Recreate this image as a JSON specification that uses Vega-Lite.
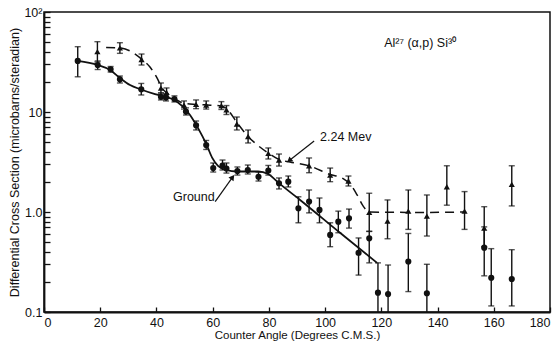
{
  "$schema": "https://vega.github.io/schema/vega-lite/v6.json",
  "width": 506,
  "height": 300,
  "autosize": "none",
  "padding": {"left": 44, "top": 12, "right": 10, "bottom": 37},
  "background": "white",
  "config": {
    "view": {"stroke": "#111", "strokeWidth": 1.5},
    "font": "Liberation Sans",
    "axis": {"domainColor": "#111", "domainWidth": 1.8, "tickColor": "#111", "tickWidth": 1.3, "labelColor": "#111", "titleColor": "#111", "grid": false, "labelFont": "Liberation Sans", "titleFont": "Liberation Sans", "titleFontWeight": "normal"}
  },
  "datasets": {
    "pts": [
      {"s": "Ground", "x": 12.0, "y": 32.4, "lo": 22.5, "hi": 45.0},
      {"s": "Ground", "x": 19.1, "y": 29.5, "lo": 26.6, "hi": 32.4},
      {"s": "Ground", "x": 23.7, "y": 26.7, "lo": 25.1, "hi": 28.5},
      {"s": "Ground", "x": 27.0, "y": 21.2, "lo": 19.5, "hi": 22.9},
      {"s": "Ground", "x": 34.6, "y": 16.9, "lo": 14.8, "hi": 19.3},
      {"s": "Ground", "x": 41.6, "y": 14.2, "lo": 13.2, "hi": 15.5},
      {"s": "Ground", "x": 43.4, "y": 14.0, "lo": 12.9, "hi": 15.1},
      {"s": "Ground", "x": 46.4, "y": 13.5, "lo": 12.6, "hi": 14.5},
      {"s": "Ground", "x": 50.5, "y": 10.1, "lo": 9.33, "hi": 11.0},
      {"s": "Ground", "x": 54.1, "y": 7.36, "lo": 6.61, "hi": 8.13},
      {"s": "Ground", "x": 57.7, "y": 4.68, "lo": 4.22, "hi": 5.19},
      {"s": "Ground", "x": 60.2, "y": 2.75, "lo": 2.51, "hi": 3.09},
      {"s": "Ground", "x": 63.5, "y": 2.92, "lo": 2.63, "hi": 3.31},
      {"s": "Ground", "x": 64.9, "y": 2.72, "lo": 2.45, "hi": 3.09},
      {"s": "Ground", "x": 68.8, "y": 2.57, "lo": 2.34, "hi": 2.82},
      {"s": "Ground", "x": 72.5, "y": 2.63, "lo": 2.40, "hi": 2.95},
      {"s": "Ground", "x": 76.3, "y": 2.25, "lo": 2.04, "hi": 2.51},
      {"s": "Ground", "x": 79.8, "y": 2.60, "lo": 2.34, "hi": 2.92},
      {"s": "Ground", "x": 83.6, "y": 1.94, "lo": 1.70, "hi": 2.19},
      {"s": "Ground", "x": 86.9, "y": 2.01, "lo": 1.78, "hi": 2.29},
      {"s": "Ground", "x": 90.5, "y": 1.09, "lo": 0.78, "hi": 1.42},
      {"s": "Ground", "x": 94.3, "y": 1.27, "lo": 0.98, "hi": 1.66},
      {"s": "Ground", "x": 98.0, "y": 1.05, "lo": 0.78, "hi": 1.38},
      {"s": "Ground", "x": 101.8, "y": 0.59, "lo": 0.45, "hi": 0.78},
      {"s": "Ground", "x": 104.7, "y": 0.80, "lo": 0.62, "hi": 1.02},
      {"s": "Ground", "x": 108.5, "y": 0.865, "lo": 0.69, "hi": 1.07},
      {"s": "Ground", "x": 111.9, "y": 0.39, "lo": 0.234, "hi": 0.55},
      {"s": "Ground", "x": 115.7, "y": 0.545, "lo": 0.31, "hi": 0.64},
      {"s": "Ground", "x": 118.8, "y": 0.156, "lo": 0.1, "hi": 0.31},
      {"s": "Ground", "x": 122.4, "y": 0.151, "lo": 0.1, "hi": 0.295},
      {"s": "Ground", "x": 129.6, "y": 0.32, "lo": 0.16, "hi": 0.61},
      {"s": "Ground", "x": 136.2, "y": 0.154, "lo": 0.1, "hi": 0.30},
      {"s": "Ground", "x": 156.6, "y": 0.44, "lo": 0.23, "hi": 0.71},
      {"s": "Ground", "x": 159.1, "y": 0.22, "lo": 0.115, "hi": 0.43},
      {"s": "Ground", "x": 166.4, "y": 0.214, "lo": 0.115, "hi": 0.42},
      {"s": "2.24 Mev", "x": 19.0, "y": 40.1, "lo": 31.6, "hi": 50.5},
      {"s": "2.24 Mev", "x": 27.0, "y": 43.7, "lo": 38.6, "hi": 49.3},
      {"s": "2.24 Mev", "x": 34.7, "y": 33.5, "lo": 29.5, "hi": 38.0},
      {"s": "2.24 Mev", "x": 41.6, "y": 17.3, "lo": 15.5, "hi": 19.5},
      {"s": "2.24 Mev", "x": 43.6, "y": 15.7, "lo": 14.1, "hi": 17.4},
      {"s": "2.24 Mev", "x": 49.8, "y": 11.7, "lo": 10.7, "hi": 12.9},
      {"s": "2.24 Mev", "x": 54.1, "y": 11.9, "lo": 10.8, "hi": 13.2},
      {"s": "2.24 Mev", "x": 57.7, "y": 11.7, "lo": 10.7, "hi": 12.9},
      {"s": "2.24 Mev", "x": 63.1, "y": 11.6, "lo": 10.6, "hi": 12.7},
      {"s": "2.24 Mev", "x": 64.9, "y": 10.5, "lo": 9.44, "hi": 11.6},
      {"s": "2.24 Mev", "x": 68.6, "y": 7.59, "lo": 6.61, "hi": 8.91},
      {"s": "2.24 Mev", "x": 72.6, "y": 5.69, "lo": 4.90, "hi": 6.61},
      {"s": "2.24 Mev", "x": 79.8, "y": 3.86, "lo": 3.39, "hi": 4.37},
      {"s": "2.24 Mev", "x": 83.6, "y": 3.31, "lo": 2.88, "hi": 3.80},
      {"s": "2.24 Mev", "x": 94.3, "y": 2.90, "lo": 2.47, "hi": 3.47},
      {"s": "2.24 Mev", "x": 101.8, "y": 2.34, "lo": 2.01, "hi": 2.75},
      {"s": "2.24 Mev", "x": 108.3, "y": 2.04, "lo": 1.82, "hi": 2.29},
      {"s": "2.24 Mev", "x": 115.7, "y": 0.99, "lo": 0.64, "hi": 1.54},
      {"s": "2.24 Mev", "x": 122.2, "y": 0.81, "lo": 0.54, "hi": 1.32},
      {"s": "2.24 Mev", "x": 129.6, "y": 1.02, "lo": 0.67, "hi": 1.66},
      {"s": "2.24 Mev", "x": 136.2, "y": 0.91, "lo": 0.575, "hi": 1.48},
      {"s": "2.24 Mev", "x": 143.3, "y": 1.79, "lo": 1.17, "hi": 2.90},
      {"s": "2.24 Mev", "x": 149.6, "y": 1.02, "lo": 0.67, "hi": 1.60},
      {"s": "2.24 Mev", "x": 156.6, "y": 0.69, "lo": 0.45, "hi": 1.13},
      {"s": "2.24 Mev", "x": 166.4, "y": 1.89, "lo": 1.15, "hi": 2.90}
    ],
    "curve": [
      {"s": "Ground", "x": 12.0, "y": 32.4},
      {"s": "Ground", "x": 19.1, "y": 29.5},
      {"s": "Ground", "x": 23.5, "y": 26.3},
      {"s": "Ground", "x": 27.0, "y": 21.9},
      {"s": "Ground", "x": 30.6, "y": 18.6},
      {"s": "Ground", "x": 34.5, "y": 16.8},
      {"s": "Ground", "x": 39.5, "y": 15.1},
      {"s": "Ground", "x": 43.4, "y": 14.1},
      {"s": "Ground", "x": 46.3, "y": 13.2},
      {"s": "Ground", "x": 49.1, "y": 11.5},
      {"s": "Ground", "x": 52.0, "y": 9.3},
      {"s": "Ground", "x": 54.8, "y": 6.9},
      {"s": "Ground", "x": 57.7, "y": 4.8},
      {"s": "Ground", "x": 59.8, "y": 3.5},
      {"s": "Ground", "x": 61.9, "y": 2.9},
      {"s": "Ground", "x": 64.8, "y": 2.63},
      {"s": "Ground", "x": 68.7, "y": 2.54},
      {"s": "Ground", "x": 76.2, "y": 2.54},
      {"s": "Ground", "x": 79.7, "y": 2.4},
      {"s": "Ground", "x": 84.0, "y": 1.9},
      {"s": "Ground", "x": 91.1, "y": 1.32},
      {"s": "Ground", "x": 105.3, "y": 0.62},
      {"s": "Ground", "x": 118.5, "y": 0.31},
      {"s": "2.24 Mev", "x": 22.1, "y": 44.2},
      {"s": "2.24 Mev", "x": 27.0, "y": 43.7},
      {"s": "2.24 Mev", "x": 31.3, "y": 39.8},
      {"s": "2.24 Mev", "x": 34.9, "y": 33.5},
      {"s": "2.24 Mev", "x": 37.7, "y": 28.2},
      {"s": "2.24 Mev", "x": 40.2, "y": 21.9},
      {"s": "2.24 Mev", "x": 42.0, "y": 17.4},
      {"s": "2.24 Mev", "x": 44.1, "y": 15.1},
      {"s": "2.24 Mev", "x": 46.6, "y": 13.5},
      {"s": "2.24 Mev", "x": 49.8, "y": 12.2},
      {"s": "2.24 Mev", "x": 54.1, "y": 11.9},
      {"s": "2.24 Mev", "x": 59.1, "y": 11.7},
      {"s": "2.24 Mev", "x": 63.0, "y": 11.5},
      {"s": "2.24 Mev", "x": 65.1, "y": 10.7},
      {"s": "2.24 Mev", "x": 68.7, "y": 7.8},
      {"s": "2.24 Mev", "x": 72.6, "y": 5.7},
      {"s": "2.24 Mev", "x": 76.2, "y": 4.6},
      {"s": "2.24 Mev", "x": 79.7, "y": 3.9},
      {"s": "2.24 Mev", "x": 83.6, "y": 3.35},
      {"s": "2.24 Mev", "x": 87.5, "y": 3.16},
      {"s": "2.24 Mev", "x": 94.3, "y": 2.9},
      {"s": "2.24 Mev", "x": 101.8, "y": 2.37},
      {"s": "2.24 Mev", "x": 106.4, "y": 2.16},
      {"s": "2.24 Mev", "x": 108.9, "y": 1.9},
      {"s": "2.24 Mev", "x": 111.4, "y": 1.48},
      {"s": "2.24 Mev", "x": 113.5, "y": 1.15},
      {"s": "2.24 Mev", "x": 115.7, "y": 1.0},
      {"s": "2.24 Mev", "x": 133.8, "y": 0.99},
      {"s": "2.24 Mev", "x": 150.2, "y": 1.0}
    ],
    "notes": [
      {"t": "Al²⁷ (α,p) Si³⁰", "x": 121, "y": 49},
      {"t": "2.24 Mev", "x": 98.2, "y": 5.66},
      {"t": "Ground", "x": 45.9, "y": 1.41}
    ],
    "arrows": [
      {"a": "2.24 Mev", "x": 96.1, "y": 5.13, "x2": 87.5, "y2": 3.31},
      {"a": "Ground", "x": 60.9, "y": 1.27, "x2": 66.9, "y2": 2.19}
    ]
  },
  "layer": [
    {
      "data": {"name": "curve"},
      "transform": [{"filter": "datum.s === 'Ground'"}],
      "mark": {"type": "line", "interpolate": "monotone", "color": "#111", "strokeWidth": 1.8, "clip": true},
      "encoding": {
        "x": {"field": "x", "type": "quantitative", "scale": {"domain": [0, 180], "nice": false, "zero": false},
          "axis": {"values": [0,10,20,30,40,50,60,70,80,90,100,110,120,130,140,150,160,170,180], "labelExpr": "datum.value % 20 === 0 ? datum.label : ''", "tickSize": -5, "labelPadding": 9, "labelFontSize": 12.5, "title": "Counter Angle (Degrees C.M.S.)", "titleFontSize": 11.5, "titlePadding": 1}},
        "y": {"field": "y", "type": "quantitative", "scale": {"type": "log", "domain": [0.1, 100], "nice": false},
          "axis": {"values": [0.1,0.2,0.3,0.4,0.5,0.6,0.7,0.8,0.9,1,2,3,4,5,6,7,8,9,10,20,30,40,50,60,70,80,90,100], "labelExpr": "datum.value === 0.1 ? '0.1' : datum.value === 1 ? '1.0' : datum.value === 10 ? '10' : datum.value === 100 ? '10²' : ''", "tickSize": -6, "labelPadding": 8, "labelFontSize": 12.5, "title": "Differential Cross Section (microbarns/steradian)", "titleFontSize": 12.5, "titlePadding": 2}}
      }
    },
    {
      "data": {"name": "curve"},
      "transform": [{"filter": "datum.s === '2.24 Mev'"}],
      "mark": {"type": "line", "interpolate": "monotone", "color": "#111", "strokeWidth": 1.5, "strokeDash": [9, 6], "clip": true},
      "encoding": {
        "x": {"field": "x", "type": "quantitative"},
        "y": {"field": "y", "type": "quantitative"}
      }
    },
    {
      "data": {"name": "pts"},
      "mark": {"type": "rule", "color": "#111", "strokeWidth": 1.4, "clip": true},
      "encoding": {
        "x": {"field": "x", "type": "quantitative"},
        "y": {"field": "lo", "type": "quantitative"},
        "y2": {"field": "hi"}
      }
    },
    {
      "data": {"name": "pts"},
      "mark": {"type": "tick", "orient": "horizontal", "size": 6, "thickness": 1.4, "color": "#111", "clip": true},
      "encoding": {
        "x": {"field": "x", "type": "quantitative"},
        "y": {"field": "hi", "type": "quantitative"}
      }
    },
    {
      "data": {"name": "pts"},
      "transform": [{"filter": "datum.lo > 0.1"}],
      "mark": {"type": "tick", "orient": "horizontal", "size": 6, "thickness": 1.4, "color": "#111", "clip": true},
      "encoding": {
        "x": {"field": "x", "type": "quantitative"},
        "y": {"field": "lo", "type": "quantitative"}
      }
    },
    {
      "data": {"name": "pts"},
      "mark": {"type": "point", "filled": true, "color": "#111", "opacity": 1, "size": 38},
      "encoding": {
        "x": {"field": "x", "type": "quantitative"},
        "y": {"field": "y", "type": "quantitative"},
        "shape": {"field": "s", "type": "nominal", "scale": {"domain": ["Ground", "2.24 Mev"], "range": ["circle", "triangle-up"]}, "legend": null}
      }
    },
    {
      "data": {"name": "notes"},
      "mark": {"type": "text", "align": "left", "baseline": "middle", "fontSize": 12.5, "color": "#111", "font": "Liberation Sans"},
      "encoding": {
        "x": {"field": "x", "type": "quantitative"},
        "y": {"field": "y", "type": "quantitative"},
        "text": {"field": "t"}
      }
    },
    {
      "data": {"name": "arrows"},
      "mark": {"type": "rule", "color": "#111", "strokeWidth": 1.2},
      "encoding": {
        "x": {"field": "x", "type": "quantitative"},
        "y": {"field": "y", "type": "quantitative"},
        "x2": {"field": "x2"},
        "y2": {"field": "y2"}
      }
    },
    {
      "data": {"name": "arrows"},
      "transform": [{"filter": "datum.a === '2.24 Mev'"}],
      "mark": {"type": "point", "shape": "triangle", "filled": true, "color": "#111", "opacity": 1, "size": 40, "angle": 231},
      "encoding": {
        "x": {"field": "x2", "type": "quantitative"},
        "y": {"field": "y2", "type": "quantitative"}
      }
    },
    {
      "data": {"name": "arrows"},
      "transform": [{"filter": "datum.a === 'Ground'"}],
      "mark": {"type": "point", "shape": "triangle", "filled": true, "color": "#111", "opacity": 1, "size": 40, "angle": 36},
      "encoding": {
        "x": {"field": "x2", "type": "quantitative"},
        "y": {"field": "y2", "type": "quantitative"}
      }
    }
  ]
}
